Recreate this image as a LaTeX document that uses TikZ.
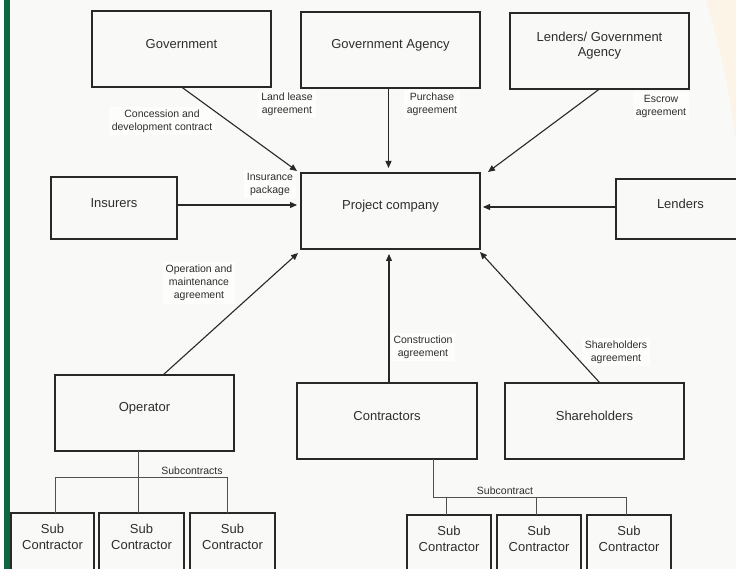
\documentclass[tikz,border=0pt]{standalone}
\usepackage{fontspec}
\setmainfont{Liberation Sans}
\usetikzlibrary{arrows.meta}

\definecolor{bgpaper}{RGB}{249,249,247}
\definecolor{notefill}{RGB}{253,253,252}
\definecolor{creamtone}{RGB}{252,244,230}
\definecolor{barGreen}{RGB}{14,102,62}
\definecolor{ink}{RGB}{40,40,40}
\definecolor{wireink}{RGB}{80,80,80}
\definecolor{txt}{RGB}{45,45,45}

\begin{document}
\begin{tikzpicture}[x=1pt,y=-1pt,
  pbox/.style={draw=ink, line width=1.1pt, inner sep=0pt, outer sep=0pt},
  boxlbl/.style={font=\fontsize{13}{15}\selectfont, text=txt, align=center, yshift=5pt},
  sublbl/.style={font=\fontsize{13}{16}\selectfont, text=txt, align=center, yshift=8.5pt},
  note/.style={font=\fontsize{10.5}{13}\selectfont, text=txt, align=center, fill=notefill, inner sep=3pt},
  barnote/.style={font=\fontsize{10.5}{13}\selectfont, text=txt, inner sep=1pt},
  arr/.style={draw=ink, line width=1.1pt, -{Triangle[length=7pt,width=6pt]}},
  wire/.style={draw=wireink, line width=0.9pt}
]
\useasboundingbox (0,0) rectangle (736,569);
\clip (0,0) rectangle (736,569);

% page background, cream corner and green side bar
\fill[bgpaper] (0,0) rectangle (736,569);
\fill[creamtone] (706,0) .. controls (722,55) and (732,100) .. (738,160) -- (738,0) -- cycle;
\fill[white] (0,0) rectangle (4,569);
\fill[barGreen] (4,0) rectangle (10,569);

% top row
\node[pbox, minimum width=179pt, minimum height=76pt,
      label={[boxlbl]center:Government}] (gov) at (181.5,49) {};
\node[pbox, minimum width=179pt, minimum height=76pt,
      label={[boxlbl]center:Government Agency}] (ga) at (390.5,50) {};
\node[pbox, minimum width=179pt, minimum height=76pt,
      label={[boxlbl]center:Lenders/ Government\\Agency}] (lg) at (599.5,51) {};

% middle row
\node[pbox, minimum width=126pt, minimum height=62pt,
      label={[boxlbl]center:Insurers}] (ins) at (114,208) {};
\node[pbox, minimum width=179pt, minimum height=76pt,
      label={[boxlbl]center:Project company}] (pc) at (390.5,211) {};
\node[pbox, minimum width=129pt, minimum height=60pt,
      label={[boxlbl]center:Lenders}] (len) at (680.5,209) {};

% lower row
\node[pbox, minimum width=179pt, minimum height=76pt,
      label={[boxlbl]center:Operator}] (op) at (144.5,413) {};
\node[pbox, minimum width=180pt, minimum height=76pt,
      label={[boxlbl]center:Contractors}] (con) at (387,421) {};
\node[pbox, minimum width=179pt, minimum height=76pt,
      label={[boxlbl]center:Shareholders}] (sh) at (594.5,421) {};

% sub contractors
\node[pbox, minimum width=83pt, minimum height=64pt,
      label={[sublbl]center:Sub\\Contractor}] (sl1) at (52.5,545) {};
\node[pbox, minimum width=85pt, minimum height=64pt,
      label={[sublbl]center:Sub\\Contractor}] (sl2) at (141.5,545) {};
\node[pbox, minimum width=85pt, minimum height=64pt,
      label={[sublbl]center:Sub\\Contractor}] (sl3) at (232.5,545) {};
\node[pbox, minimum width=84pt, minimum height=64pt,
      label={[sublbl]center:Sub\\Contractor}] (sr1) at (449,547) {};
\node[pbox, minimum width=84pt, minimum height=64pt,
      label={[sublbl]center:Sub\\Contractor}] (sr2) at (539,547) {};
\node[pbox, minimum width=84pt, minimum height=64pt,
      label={[sublbl]center:Sub\\Contractor}] (sr3) at (629,547) {};

% agreement labels
\node[note] (n1) at (162,121) {Concession and\\development contract};
\node[note] (n2) at (287,104) {Land lease\\agreement};
\node[note] (n3) at (432,104) {Purchase\\agreement};
\node[note] (n4) at (661,106) {Escrow\\agreement};
\node[note] (n5) at (270,184) {Insurance\\package};
\node[note] (n6) at (199,283) {Operation and\\maintenance\\agreement};
\node[note] (n7) at (423,347) {Construction\\agreement};
\node[note] (n8) at (616,352) {Shareholders\\agreement};

% contracts pointing at the project company
\draw[arr] (gov.south) -- ([xshift=-4pt,yshift=2pt]pc.north west);
\draw[arr] ([xshift=-2pt]ga.south) -- ([xshift=-2pt,yshift=5pt]pc.north);
\draw[arr] (lg.south) -- ([xshift=8pt,yshift=1pt]pc.north east);
\draw[arr, shorten >=4pt] ([yshift=3pt]ins.east) -- ([yshift=3pt]ins.east -| pc.west);
\draw[arr, shorten >=3pt] ([yshift=2pt]len.west) -- ([yshift=2pt]len.west -| pc.east);
\draw[arr] ([xshift=18.5pt]op.north) -- ([xshift=-3pt,yshift=-4pt]pc.south west);
\draw[arr, shorten >=5pt] ([xshift=2pt]con.north) -- ([xshift=2pt]con.north |- pc.south);
\draw[arr] ([xshift=5.5pt]sh.north) -- ([yshift=-3pt]pc.south east);

% subcontract trees
\coordinate (lbar) at (0,477);
\coordinate (rbar) at (0,497);
\draw[wire] ([xshift=-3.5pt]sl2.north) -- ([xshift=-3.5pt]sl2.north |- op.south);
\draw[wire] ([xshift=2.5pt]sl1.north) |- ([xshift=-5.5pt]sl3.north |- lbar) -- ([xshift=-5.5pt]sl3.north);
\draw[wire] ([xshift=46pt]con.south) |- ([xshift=-3pt]sr3.north |- rbar) -- ([xshift=-3pt]sr3.north);
\draw[wire] ([xshift=-3pt]sr1.north) -- ([xshift=-3pt]sr1.north |- rbar);
\draw[wire] ([xshift=-3pt]sr2.north) -- ([xshift=-3pt]sr2.north |- rbar);
\node[barnote] (t1) at (192,471) {Subcontracts};
\node[barnote] (t2) at (505,491) {Subcontract};
\end{tikzpicture}
\end{document}
